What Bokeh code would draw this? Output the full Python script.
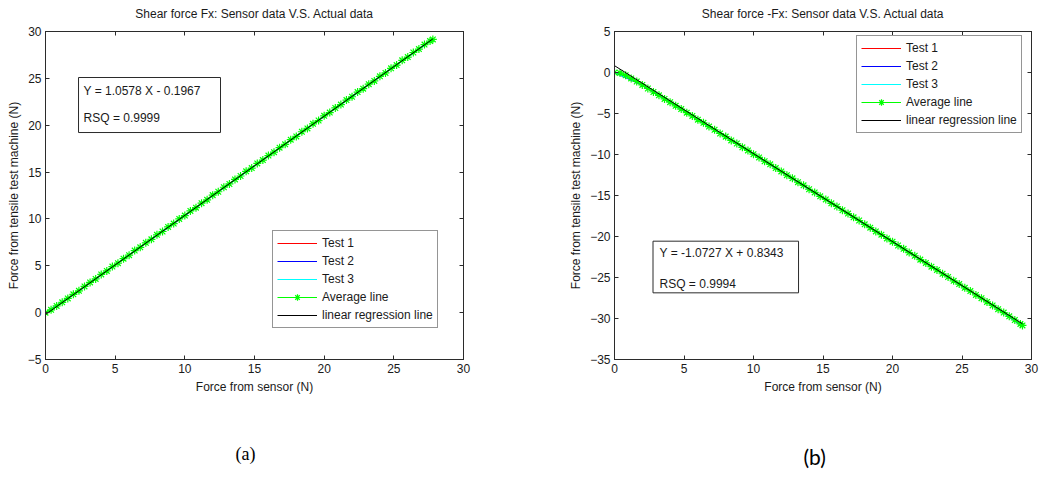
from bokeh.plotting import figure
from bokeh.models import (Range1d, LinearAxis, FixedTicker, CustomJSTickFormatter,
                          BoxAnnotation, Label, Legend, LegendItem, Title)
from bokeh.layouts import row
from bokeh.embed import file_html
from bokeh.resources import INLINE

FONT = "Liberation Sans"
TXT = "#1a1a1a"
AX = "#2b2b2b"

# ---------------- data: plot (a) ----------------
a_title = "Shear force Fx: Sensor data V.S. Actual data"
a_xticks = [0, 5, 10, 15, 20, 25, 30]
a_yticks = [-5, 0, 5, 10, 15, 20, 25, 30]

a_test_x = [0, 2, 4, 6, 8, 10, 12, 14, 16, 18, 20, 22, 24, 26, 27.6]
a_test1_y = [0.0, 1.98, 4.06, 6.12, 8.28, 10.38, 12.52, 14.60, 16.74, 18.82, 20.98, 23.06, 25.20, 27.28, 28.96]
a_test2_y = [0.0, 1.92, 4.02, 6.16, 8.24, 10.34, 12.48, 14.62, 16.72, 18.86, 20.94, 23.10, 25.18, 27.30, 29.02]
a_test3_y = [0.0, 1.95, 4.08, 6.14, 8.30, 10.40, 12.50, 14.56, 16.76, 18.80, 21.02, 23.02, 25.24, 27.26, 28.92]

a_avg_x = [0.0, 0.4, 0.8, 1.2, 1.6, 2.0, 2.4, 2.8, 3.2, 3.6, 4.0, 4.4, 4.8, 5.2, 5.6, 6.0,
           6.4, 6.8, 7.2, 7.6, 8.0, 8.4, 8.8, 9.2, 9.6, 10.0, 10.4, 10.8, 11.2, 11.6, 12.0,
           12.4, 12.8, 13.2, 13.6, 14.0, 14.4, 14.8, 15.2, 15.6, 16.0, 16.4, 16.8, 17.2,
           17.6, 18.0, 18.4, 18.8, 19.2, 19.6, 20.0, 20.4, 20.8, 21.2, 21.6, 22.0, 22.4,
           22.8, 23.2, 23.6, 24.0, 24.4, 24.8, 25.2, 25.6, 26.0, 26.4, 26.8, 27.2, 27.6, 27.8]
a_avg_y = [0.00, 0.30, 0.72, 1.10, 1.52, 1.95, 2.33, 2.80, 3.22, 3.60, 4.08, 4.45, 4.92, 5.28,
           5.76, 6.13, 6.62, 6.97, 7.45, 7.82, 8.30, 8.66, 9.15, 9.50, 10.00, 10.36, 10.85,
           11.20, 11.68, 12.04, 12.54, 12.90, 13.38, 13.73, 14.22, 14.58, 15.08, 15.43,
           15.92, 16.28, 16.76, 17.12, 17.60, 17.96, 18.46, 18.80, 19.30, 19.66, 20.15,
           20.50, 21.00, 21.35, 21.84, 22.20, 22.68, 23.04, 23.54, 23.90, 24.38, 24.73,
           25.22, 25.58, 26.07, 26.42, 26.92, 27.27, 27.76, 28.12, 28.60, 28.98, 29.15]

a_fit_x = [0.0, 27.8]
a_fit_y = [-0.1967, 29.21]
a_eq = "Y = 1.0578 X - 0.1967"
a_rsq = "RSQ = 0.9999"
a_caption = "(a)"

# ---------------- data: plot (b) ----------------
b_title = "Shear force -Fx: Sensor data V.S. Actual data"
b_xticks = [0, 5, 10, 15, 20, 25, 30]
b_yticks = [-35, -30, -25, -20, -15, -10, -5, 0, 5]

b_test_x = [0, 2, 4, 6, 8, 10, 12, 14, 16, 18, 20, 22, 24, 26, 28, 29.3]
b_test1_y = [0.0, -1.48, -3.58, -5.72, -7.80, -9.92, -12.04, -14.20, -16.32, -18.48, -20.60, -22.78, -24.92, -27.08, -29.24, -30.78]
b_test2_y = [0.0, -1.55, -3.66, -5.78, -7.86, -9.98, -12.10, -14.26, -16.38, -18.54, -20.66, -22.84, -24.98, -27.14, -29.32, -30.92]
b_test3_y = [0.0, -1.50, -3.60, -5.74, -7.84, -9.95, -12.07, -14.22, -16.35, -18.50, -20.62, -22.80, -24.95, -27.10, -29.26, -30.86]

b_avg_x = [0.0, 0.4, 0.8, 1.2, 1.6, 2.0, 2.4, 2.8, 3.2, 3.6, 4.0, 4.4, 4.8, 5.2, 5.6, 6.0,
           6.4, 6.8, 7.2, 7.6, 8.0, 8.4, 8.8, 9.2, 9.6, 10.0, 10.4, 10.8, 11.2, 11.6, 12.0,
           12.4, 12.8, 13.2, 13.6, 14.0, 14.4, 14.8, 15.2, 15.6, 16.0, 16.4, 16.8, 17.2,
           17.6, 18.0, 18.4, 18.8, 19.2, 19.6, 20.0, 20.4, 20.8, 21.2, 21.6, 22.0, 22.4,
           22.8, 23.2, 23.6, 24.0, 24.4, 24.8, 25.2, 25.6, 26.0, 26.4, 26.8, 27.2, 27.6,
           28.0, 28.4, 28.8, 29.2, 29.35]
b_avg_y = [0.00, -0.05, -0.35, -0.72, -1.10, -1.52, -1.95, -2.38, -2.78, -3.22, -3.62, -4.06,
           -4.46, -4.90, -5.30, -5.75, -6.14, -6.60, -6.98, -7.44, -7.82, -8.28, -8.66, -9.12,
           -9.50, -9.96, -10.36, -10.82, -11.20, -11.66, -12.06, -12.52, -12.90, -13.38,
           -13.76, -14.24, -14.62, -15.10, -15.48, -15.95, -16.34, -16.80, -17.20, -17.66,
           -18.05, -18.52, -18.92, -19.38, -19.78, -20.24, -20.63, -21.10, -21.50, -21.96,
           -22.35, -22.82, -23.22, -23.68, -24.08, -24.54, -24.94, -25.40, -25.80, -26.26,
           -26.66, -27.12, -27.52, -27.98, -28.40, -28.86, -29.28, -29.74, -30.18, -30.66, -30.85]

b_fit_x = [0.0, 29.35]
b_fit_y = [0.8343, -30.65]
b_eq = "Y = -1.0727 X + 0.8343"
b_rsq = "RSQ = 0.9994"
b_caption = "(b)"

legend_labels = ["Test 1", "Test 2", "Test 3", "Average line", "linear regression line"]
x_label = "Force from sensor (N)"
y_label = "Force from tensile test machine (N)"


def style_axis(ax, ticks, show_labels=True, label=None, label_standoff=4):
    ax.ticker = FixedTicker(ticks=ticks)
    ax.axis_line_color = AX
    ax.axis_line_width = 1
    ax.major_tick_line_color = AX
    ax.major_tick_in = 4
    ax.major_tick_out = 0
    ax.minor_tick_line_color = None
    ax.major_label_text_font = FONT
    ax.major_label_text_font_size = "12px"
    ax.major_label_text_color = TXT
    ax.major_label_standoff = 4
    if not show_labels:
        ax.formatter = CustomJSTickFormatter(code="return ''")
        ax.major_label_text_font_size = "0px"
        ax.major_label_standoff = 0
    if label:
        ax.axis_label = label
        ax.axis_label_text_font = FONT
        ax.axis_label_text_font_size = "12px"
        ax.axis_label_text_font_style = "normal"
        ax.axis_label_text_color = TXT
        ax.axis_label_standoff = label_standoff


def make_plot(width, min_left, min_right, yr, xticks, yticks, tests_x, tests_y,
              avg_x, avg_y, fit_x, fit_y, box, eq_pos, rsq_pos, eq, rsq,
              title, legend_loc, cap, cap_font, cap_size, cap_offset):
    p = figure(width=width, height=494, output_backend="svg", toolbar_location=None,
               x_range=Range1d(0, 30), y_range=Range1d(*yr),
               x_axis_type=None, y_axis_type=None,
               min_border_left=min_left, min_border_right=min_right,
               min_border_top=31, min_border_bottom=135)
    p.outline_line_color = AX
    p.background_fill_color = "white"
    p.border_fill_color = "white"

    bx = LinearAxis(); style_axis(bx, xticks, True, x_label); p.add_layout(bx, "below")
    ly = LinearAxis(); style_axis(ly, yticks, True, y_label); p.add_layout(ly, "left")
    # top axis: box ticks only, carrying the chart title as its label
    tx = LinearAxis(); style_axis(tx, xticks, False, title, 11); p.add_layout(tx, "above")
    ry = LinearAxis(); style_axis(ry, yticks, False); p.add_layout(ry, "right")

    # white (invisible) spacer axis between the x axis and the panel caption
    sp = LinearAxis(ticker=FixedTicker(ticks=[30]), axis_line_color=None,
                    major_tick_line_color="white", minor_tick_line_color=None,
                    major_tick_in=0, major_tick_out=20, major_label_standoff=0,
                    major_label_text_font_size="0px",
                    formatter=CustomJSTickFormatter(code="return ''"))
    p.add_layout(sp, "below")

    p.add_layout(Title(text=cap, align="left", text_font=cap_font, text_font_size=cap_size,
                       text_font_style="normal", text_color="#000000", standoff=50,
                       offset=cap_offset), "below")

    colors = ["#ff0000", "#0000ff", "#00ffff"]
    rends = []
    for ty, c in zip(tests_y, colors):
        rends.append(p.line(tests_x, ty, line_color=c, line_width=1.2))
    avg_l = p.line(avg_x, avg_y, line_color="#00ff00", line_width=1.2)
    avg_s = p.scatter(avg_x, avg_y, marker="asterisk", size=8, line_color="#00ff00", line_width=1.2)
    fit = p.line(fit_x, fit_y, line_color="#000000", line_width=1)

    items = [LegendItem(label=legend_labels[0], renderers=[rends[0]]),
             LegendItem(label=legend_labels[1], renderers=[rends[1]]),
             LegendItem(label=legend_labels[2], renderers=[rends[2]]),
             LegendItem(label=legend_labels[3], renderers=[avg_l, avg_s]),
             LegendItem(label=legend_labels[4], renderers=[fit])]
    leg = Legend(items=items, location=legend_loc, orientation="vertical",
                 padding=4, spacing=2, margin=0, label_height=16, glyph_height=16,
                 glyph_width=40, label_standoff=5,
                 label_text_font=FONT, label_text_font_size="12px", label_text_color=TXT,
                 border_line_color=AX, border_line_width=1,
                 background_fill_color="white", background_fill_alpha=1.0)
    p.add_layout(leg, "center")

    p.add_layout(BoxAnnotation(left=box[0], right=box[1], bottom=box[2], top=box[3],
                               fill_color="white", fill_alpha=1.0,
                               line_color=AX, line_width=1, line_alpha=1.0))
    for pos, t in ((eq_pos, eq), (rsq_pos, rsq)):
        p.add_layout(Label(x=pos[0], y=pos[1], text=t, text_font=FONT, text_font_size="12px",
                           text_color=TXT, text_align="left", text_baseline="middle"))
    return p


# left panel: frame x 45..463, y 31..359 (page px)
pa = make_plot(548, 45, 85, (-5, 30), a_xticks, a_yticks, a_test_x,
               [a_test1_y, a_test2_y, a_test3_y], a_avg_x, a_avg_y, a_fit_x, a_fit_y,
               (2.37, 12.56, 19.22, 25.09), (2.73, 23.70), (2.73, 20.72), a_eq, a_rsq,
               a_title, (227, 31), a_caption, "Liberation Serif", "18px", 190)

# right panel: frame x 614..1031
pb = make_plot(492, 66, 9, (-35, 5), b_xticks, b_yticks, b_test_x,
               [b_test1_y, b_test2_y, b_test3_y], b_avg_x, b_avg_y, b_fit_x, b_fit_y,
               (2.77, 13.24, -26.87, -20.57), (3.24, -22.07), (3.24, -25.85), b_eq, b_rsq,
               b_title, (242, 226), b_caption, "Lato", "21px", 189)

layout = row(pa, pb, spacing=0)
open("out.html", "w").write(file_html(layout, INLINE))
